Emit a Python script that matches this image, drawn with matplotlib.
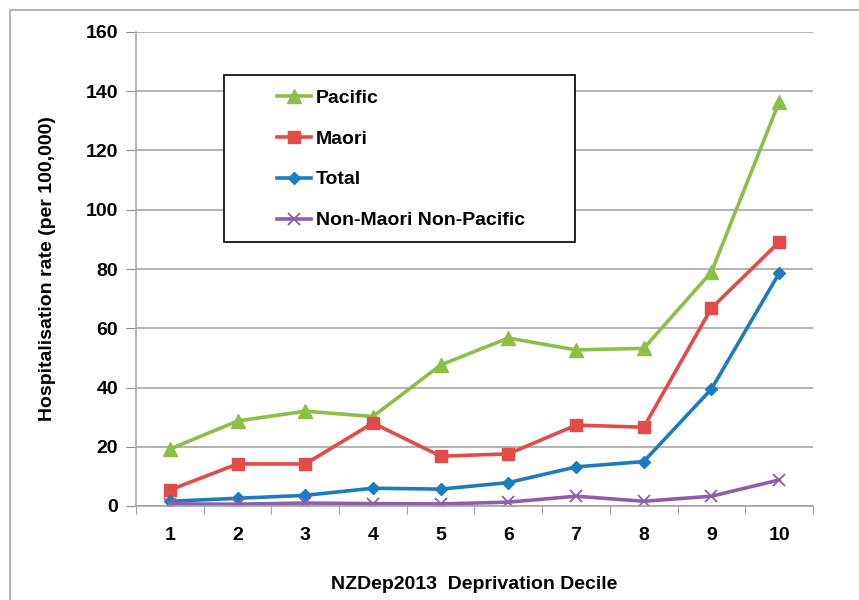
import matplotlib
matplotlib.use("Agg")
import matplotlib.pyplot as plt
from matplotlib.patches import Rectangle

deciles = [1, 2, 3, 4, 5, 6, 7, 8, 9, 10]
pacific = [19.2, 28.7, 32.0, 30.2, 47.6, 56.7, 52.7, 53.2, 79.0, 136.4]
maori = [5.4, 14.2, 14.2, 28.0, 16.8, 17.6, 27.3, 26.6, 66.8, 89.1]
total = [1.6, 2.6, 3.6, 6.0, 5.7, 7.9, 13.2, 15.0, 39.5, 78.6]
non_maori_non_pacific = [0.7, 0.6, 1.0, 0.8, 0.7, 1.3, 3.3, 1.6, 3.3, 8.8]

plt.rcParams["font.family"] = ["Liberation Sans", "DejaVu Sans"]
plt.rcParams["font.weight"] = "bold"

W, H = 859, 600
fig = plt.figure(figsize=(W / 100, H / 100), dpi=100)
ax = fig.add_axes([136 / W, 1 - 506 / H, (813 - 136) / W, (506 - 32) / H])

# outer chart frame (open on right and bottom)
fig.patches.append(Rectangle((10 / W, -0.1), 1.0, 1 - 10 / H + 0.1,
                             transform=fig.transFigure, fill=False,
                             edgecolor="#a6a6a6", linewidth=1.2))

ax.plot(deciles, pacific, color="#8cbf46", marker="^", markersize=9.5, lw=2.6, label="Pacific")
ax.plot(deciles, maori, color="#e34a48", marker="s", markersize=9, lw=2.6, label="Maori")
ax.plot(deciles, total, color="#1d7bc0", marker="D", markersize=6.5, lw=2.6, label="Total")
ax.plot(deciles, non_maori_non_pacific, color="#8c5fa8", marker="x", markersize=8,
        markeredgewidth=1.3, lw=2.6, label="Non-Maori Non-Pacific")

ax.set_xlim(0.5, 10.5)
ax.set_ylim(0, 160)
ax.set_yticks(range(0, 161, 20))
ax.set_xticks(deciles)
ax.set_xticks([x + 0.5 for x in range(0, 11)], minor=True)
ax.tick_params(axis="x", which="major", length=0, pad=15, labelsize=14)
ax.tick_params(axis="x", which="minor", length=6, color="#8c8c8c")
ax.tick_params(axis="y", length=7, color="#8c8c8c", labelsize=14, pad=6)
for lab in ax.get_xticklabels() + ax.get_yticklabels():
    lab.set_fontweight("bold")

ax.grid(axis="y", color="#a6a6a6", linewidth=1.2)
ax.set_axisbelow(True)
for s in ["top", "right"]:
    ax.spines[s].set_visible(False)
ax.spines["left"].set_color("#a6a6a6")
ax.spines["bottom"].set_color("#a6a6a6")
ax.spines["left"].set_linewidth(1.2)
ax.spines["bottom"].set_linewidth(1.2)

ax.set_xlabel("NZDep2013  Deprivation Decile", fontsize=14, fontweight="bold", labelpad=23)
ax.set_ylabel("Hospitalisation rate (per 100,000)", fontsize=14, fontweight="bold", labelpad=21)

# legend box drawn separately so it can be wider than its entries
ax.add_patch(Rectangle(((224 - 136) / 677, (506 - 242) / 474), (575 - 224) / 677,
                       (242 - 75) / 474, transform=ax.transAxes, fill=True,
                       facecolor="white", edgecolor="black", linewidth=1.2, zorder=5))
leg = ax.legend(loc="upper left", bbox_to_anchor=((277 - 136) / 677, (506 - 89) / 474),
                frameon=False, handlelength=1.75, labelspacing=1.2, borderpad=0,
                handletextpad=0.25, borderaxespad=0,
                prop={"weight": "bold", "size": 14})
leg.set_zorder(6)

fig.savefig("out.png", dpi=100)
